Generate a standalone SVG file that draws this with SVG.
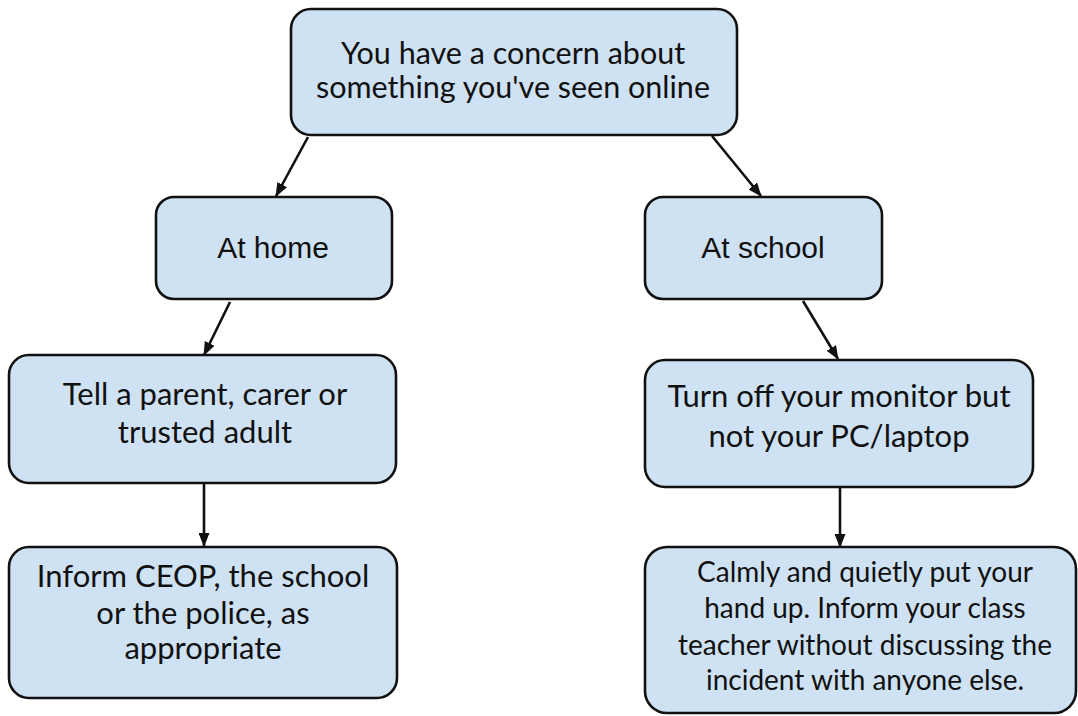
<svg xmlns="http://www.w3.org/2000/svg" width="1078" height="716" viewBox="0 0 1078 716">
<defs>
<style>
.box{fill:#cfe2f3;stroke:#111;stroke-width:2.6}
.t{font-family:Lato,"Liberation Sans",sans-serif;font-size:31px;fill:#111;text-anchor:middle}
.tt{font-size:30.5px}
.s{font-size:28px}
.a{font-family:"Liberation Sans",Arial,sans-serif;font-size:30px;fill:#111;text-anchor:middle}
.c{stroke:#111;stroke-width:2.6;fill:none;marker-end:url(#ah)}
</style>
<marker id="ah" viewBox="0 0 14 11" refX="13" refY="5.5" markerWidth="14" markerHeight="11" markerUnits="userSpaceOnUse" orient="auto">
<path d="M0,0 L14,5.5 L0,11 z" fill="#111"/>
</marker>
</defs>
<rect width="1078" height="716" fill="#fff"/>
<g id="connectors">
<line class="c" x1="308" y1="137" x2="276" y2="196"/>
<line class="c" x1="712" y1="136" x2="761" y2="196"/>
<line class="c" x1="230" y1="302" x2="204" y2="355"/>
<line class="c" x1="803" y1="301" x2="838" y2="359"/>
<line class="c" x1="204" y1="484" x2="204" y2="546"/>
<line class="c" x1="840" y1="488" x2="840" y2="547"/>
</g>
<g id="n-top">
<rect class="box" x="291" y="9" width="446" height="126" rx="20"/>
<text class="t tt" x="513" y="64">You have a concern about</text>
<text class="t tt" x="513" y="98">something you've seen online</text>
</g>
<g id="n-home">
<rect class="box" x="156" y="197" width="236" height="102" rx="18"/>
<text class="a" x="273" y="258">At home</text>
</g>
<g id="n-school">
<rect class="box" x="645" y="197" width="237" height="102" rx="18"/>
<text class="a" x="763" y="258">At school</text>
</g>
<g id="n-tell">
<rect class="box" x="9" y="355" width="387" height="128" rx="20"/>
<text class="t" x="205" y="405">Tell a parent, carer or</text>
<text class="t" x="205" y="443">trusted adult</text>
</g>
<g id="n-turn">
<rect class="box" x="645" y="360" width="388" height="127" rx="20"/>
<text class="t" x="839" y="407">Turn off your monitor but</text>
<text class="t" x="839" y="447">not your PC/laptop</text>
</g>
<g id="n-inform">
<rect class="box" x="9" y="547" width="388" height="151" rx="20"/>
<text class="t" x="203" y="587">Inform CEOP, the school</text>
<text class="t" x="203" y="624">or the police, as</text>
<text class="t" x="203" y="659">appropriate</text>
</g>
<g id="n-calm">
<rect class="box" x="645" y="547" width="431" height="166" rx="22"/>
<text class="t s" x="865" y="582">Calmly and quietly put your</text>
<text class="t s" x="865" y="618">hand up. Inform your class</text>
<text class="t s" x="865" y="655">teacher without discussing the</text>
<text class="t s" x="865" y="690">incident with anyone else.</text>
</g>
</svg>
